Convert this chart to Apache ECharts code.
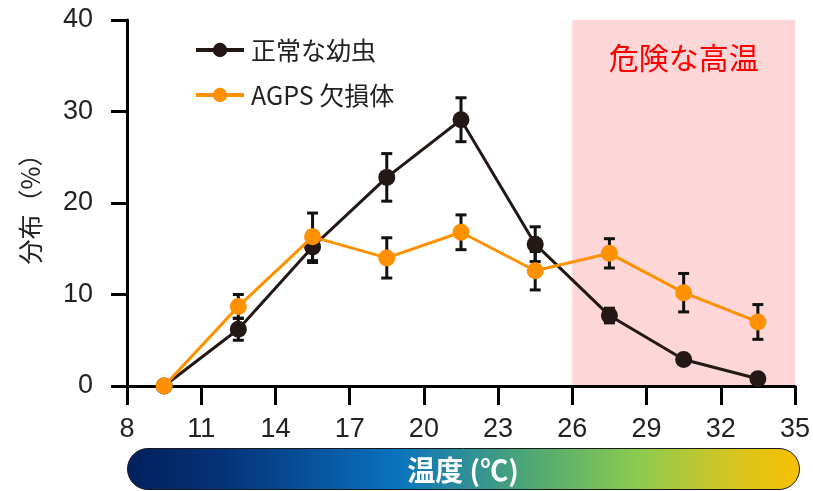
<!DOCTYPE html>
<html>
<head>
<meta charset="utf-8">
<script src="https://cdn.jsdelivr.net/npm/echarts@6/dist/echarts.min.js"></script>
<style>
  html, body { margin: 0; padding: 0; background: #fff; }
  #chart { width: 813px; height: 491px; }
</style>
</head>
<body>
<div id="chart"></div>
<script>
// Temperature bins (°C) and larval distribution (%) with error bars
const temps = [9.5, 12.5, 15.5, 18.5, 21.5, 24.5, 27.5, 30.5, 33.5];
const normalMean = [0, 6.2, 15.2, 22.8, 29.1, 15.5, 7.7, 2.9, 0.8];
const normalErr  = [0, 1.2, 1.7, 2.6, 2.4, 1.9, 0.8, 0.3, 0.3];
const agpsMean   = [0, 8.7, 16.3, 14.0, 16.8, 12.6, 14.5, 10.2, 7.0];
const agpsErr    = [0, 1.3, 2.6, 2.2, 1.9, 2.1, 1.6, 2.1, 1.9];
const xTicks = [8, 11, 14, 17, 20, 23, 26, 29, 32, 35];
const dangerRange = [26, 35];
const seriesNames = ['正常な幼虫', 'AGPS 欠損体'];
const dangerLabel = '危険な高温';
const yTitle = '分布（%）';
const barTitle = '温度 (℃)';

const BLACK = '#231815';
const ORANGE = '#ff9000';
const JP = '"Noto Sans CJK JP", "Noto Sans", sans-serif';
const NUM = '"Liberation Sans", Arial, sans-serif';

const chart = echarts.init(document.getElementById('chart'));

function pairs(ys) { return temps.map((t, i) => [t, ys[i]]); }
function errData(ys, es) { return temps.map((t, i) => [t, ys[i], es[i]]); }

function renderErr(params, api) {
  const x = api.value(0), y = api.value(1), e = api.value(2);
  if (!e) return null;
  const top = api.coord([x, y + e]);
  const bot = api.coord([x, y - e]);
  const hw = 5.5;
  const style = { stroke: '#111', lineWidth: 3 };
  return {
    type: 'group',
    children: [
      { type: 'line', shape: { x1: top[0], y1: top[1], x2: bot[0], y2: bot[1] }, style },
      { type: 'line', shape: { x1: top[0] - hw, y1: top[1], x2: top[0] + hw, y2: top[1] }, style },
      { type: 'line', shape: { x1: bot[0] - hw, y1: bot[1], x2: bot[0] + hw, y2: bot[1] }, style }
    ]
  };
}

const option = {
  animation: false,
  grid: { left: 127, right: 16, top: 20, bottom: 105 },
  legend: {
    orient: 'vertical',
    left: 189,
    top: 32,
    itemWidth: 48,
    itemHeight: 18,
    itemGap: 19,
    data: seriesNames,
    lineStyle: { width: 4 },
    textStyle: { fontSize: 25, lineHeight: 26, color: '#222', fontFamily: JP, padding: [0, 0, 0, 2] }
  },
  xAxis: {
    type: 'value',
    min: 8,
    max: 35,
    z: 10,
    splitLine: { show: false },
    axisLine: { show: true, lineStyle: { color: '#000', width: 3 } },
    axisTick: { show: true, customValues: xTicks, length: 19, lineStyle: { color: '#000', width: 3 } },
    axisLabel: { customValues: xTicks, fontSize: 27, color: '#222', fontFamily: NUM, margin: 30 }
  },
  yAxis: {
    type: 'value',
    min: 0,
    max: 40,
    interval: 10,
    z: 10,
    name: yTitle,
    nameLocation: 'middle',
    nameRotate: 90,
    nameGap: 84,
    nameTextStyle: { fontSize: 25, color: '#222', fontFamily: JP },
    splitLine: { show: false },
    axisLine: { show: true, lineStyle: { color: '#000', width: 3 } },
    axisTick: { show: true, length: 16, lineStyle: { color: '#000', width: 3 } },
    axisLabel: { fontSize: 27, color: '#222', fontFamily: NUM, margin: 34 }
  },
  series: [
    {
      // shaded high-temperature zone
      type: 'line',
      data: [],
      z: 1,
      silent: true,
      markArea: {
        silent: true,
        itemStyle: { color: '#fdd6d8' },
        label: {
          show: true,
          position: 'insideTop',
          distance: 23,
          color: '#ff0000',
          fontSize: 30,
          fontFamily: JP
        },
        data: [[{ name: dangerLabel, xAxis: dangerRange[0] }, { xAxis: dangerRange[1] }]]
      }
    },
    {
      type: 'custom',
      renderItem: renderErr,
      data: errData(normalMean, normalErr),
      z: 11,
      silent: true
    },
    {
      type: 'custom',
      renderItem: renderErr,
      data: errData(agpsMean, agpsErr),
      z: 11,
      silent: true
    },
    {
      name: seriesNames[0],
      type: 'line',
      data: pairs(normalMean),
      z: 12,
      symbol: 'circle',
      symbolSize: 17,
      lineStyle: { color: BLACK, width: 3 },
      itemStyle: { color: BLACK }
    },
    {
      name: seriesNames[1],
      type: 'line',
      data: pairs(agpsMean),
      z: 13,
      symbol: 'circle',
      symbolSize: 17,
      lineStyle: { color: ORANGE, width: 3 },
      itemStyle: { color: ORANGE }
    }
  ],
  graphic: [
    {
      type: 'rect',
      shape: { x: 127.5, y: 448.5, width: 672, height: 41, r: 20.5 },
      style: {
        fill: new echarts.graphic.LinearGradient(0, 0, 1, 0, [
          { offset: 0, color: '#01205c' },
          { offset: 0.15, color: '#05347a' },
          { offset: 0.4, color: '#0a72be' },
          { offset: 0.6, color: '#4fa874' },
          { offset: 0.76, color: '#8ccb4f' },
          { offset: 0.9, color: '#d6c520' },
          { offset: 1, color: '#f8c000' }
        ]),
        stroke: '#1a1a1a',
        lineWidth: 1
      }
    },
    {
      type: 'text',
      x: 463,
      y: 470,
      style: {
        text: barTitle,
        fill: '#fff',
        font: 'bold 28px ' + JP,
        textAlign: 'center',
        textVerticalAlign: 'middle'
      }
    }
  ]
};

chart.setOption(option);
</script>
</body>
</html>
